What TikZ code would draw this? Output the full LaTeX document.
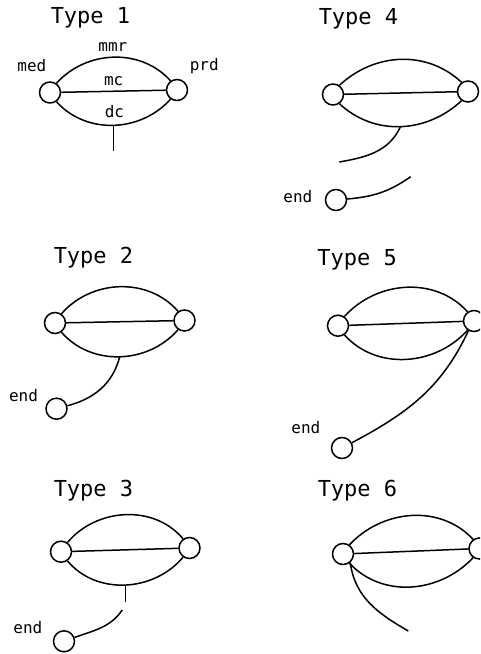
\documentclass[tikz,border=0pt]{standalone}
\usepackage{fontspec}
\setmonofont{DejaVu Sans Mono}
\newcommand\lensdraw[5]{%
  \node[pt] (#1L) at (#2) {};
  \node[pt] (#1R) at (#3) {};
  \draw (#1L) -- (#1R);
  \draw (#1L.55) to[out=#4,in=#5] coordinate[pos=0.5] (#1t) (#1R.125);
  \draw (#1L.-55) to[out=-#4,in=-#5] coordinate[pos=0.5] (#1b) (#1R.-125);
}
\begin{document}
\begin{tikzpicture}[x=1pt,y=1pt,line width=1.5pt,
  pt/.style={circle,draw,minimum size=21pt,inner sep=0pt},
  ttl/.style={font=\ttfamily\fontsize{22}{22}\selectfont,anchor=base west,inner sep=0pt},
  lbl/.style={font=\ttfamily\fontsize{16}{16}\selectfont,anchor=base west,inner sep=0pt}]
\useasboundingbox (0,0) rectangle (480,-654);
\clip (0,0) rectangle (480,-654);
% Type 1
\node[ttl] (t1) at (50,-23.3) {Type 1};
\lensdraw{a}{50,-92.5}{177,-90}{48}{132}
\coordinate (a1) at ([yshift=-26pt]ab);
\draw (ab) -- (a1);
\node[lbl] (mmr) at (97.7,-51) {mmr};
\node[lbl] (med) at (16.7,-71) {med};
\node[lbl] (prd) at (189,-70) {prd};
\node[lbl] (mc) at (103.3,-85) {mc};
\node[lbl] (dc) at (104,-117.3) {dc};
% Type 2
\node[ttl] (t2) at (53,-263.3) {Type 2};
\lensdraw{b}{55,-323}{184.5,-320.5}{49}{131}
\node[pt] (bE) at (56.5,-408.7) {};
\draw (bb) to[out=-105,in=15] (bE);
\node[lbl] (b2) at (8.3,-401.7) {end};
% Type 3
\node[ttl] (t3) at (53,-496) {Type 3};
\lensdraw{c}{61,-551.7}{189.5,-548}{50}{130}
\coordinate (c1) at ([yshift=-16.7pt]cb);
\draw (cb) -- (c1);
\node[pt] (cE) at (64,-641.3) {};
\coordinate (c2) at (122.3,-610);
\draw (c2) to[out=-125,in=20] (cE);
\node[lbl] (c3) at (12.7,-633.3) {end};
% Type 4
\node[ttl] (t4) at (318,-24) {Type 4};
\lensdraw{d}{333,-94.5}{468,-91.5}{43}{137}
\coordinate (d1) at (339.3,-162);
\draw (db) to[out=-115,in=10] (d1);
\node[pt] (dE) at (336,-200) {};
\coordinate (d2) at (410.7,-176.7);
\draw (dE) to[out=5,in=-145] (d2);
\node[lbl] (d3) at (282.7,-202.7) {end};
% Type 5
\node[ttl] (t5) at (316.7,-265) {Type 5};
\lensdraw{e}{338,-325.7}{474,-321}{48}{132}
\node[pt] (eE) at (342,-448) {};
\draw (eR.-120) to[out=-115,in=28] (eE);
\node[lbl] (e3) at (290.7,-433.3) {end};
% Type 6
\node[ttl] (t6) at (317,-496.7) {Type 6};
\lensdraw{f}{343,-554}{479.5,-548.5}{47}{133}
\coordinate (f1) at (408.3,-631);
\draw (fL.-50) to[out=-82,in=150] (f1);
\end{tikzpicture}
\end{document}
